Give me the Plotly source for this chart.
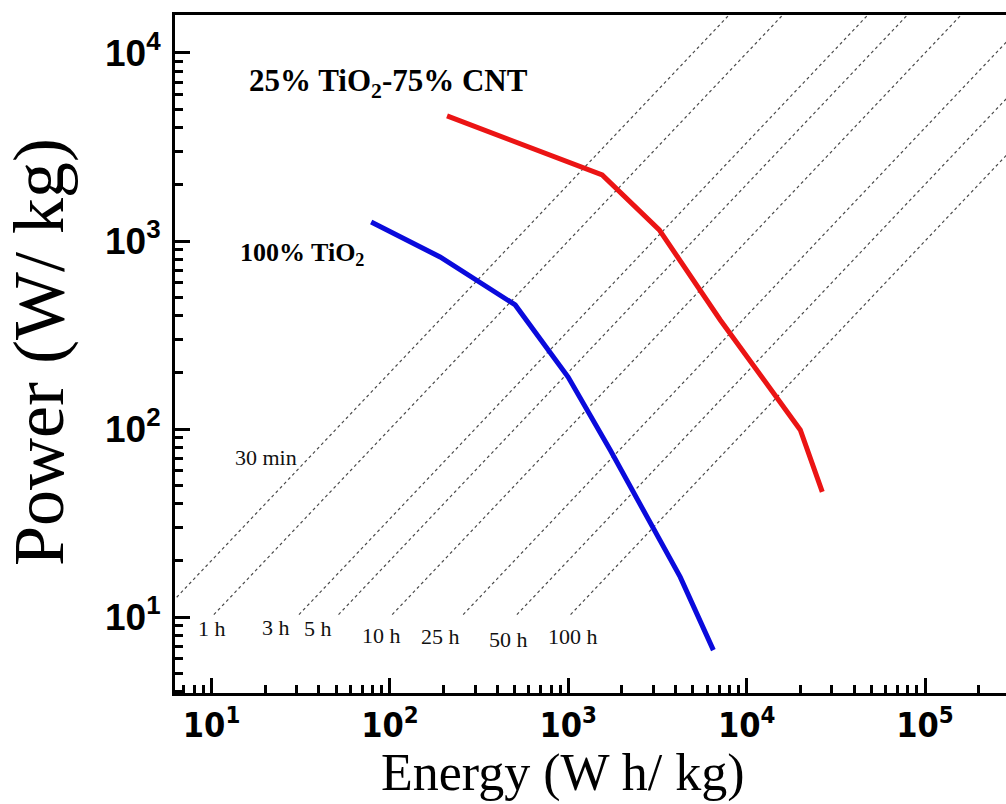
import numpy as np
import plotly.graph_objects as go

# ---- data ----
cnt_energy = [209, 1549, 3236, 7112, 19990, 26540]      # W h/kg
cnt_power = [4624, 2244, 1146, 380, 98.9, 46.3]         # W/kg

tio2_energy = [78.5, 191, 504, 998, 1718, 4245, 6505]
tio2_power = [1262, 822, 457, 189, 77.3, 16.3, 6.67]

times_h = [0.5, 1, 3, 5, 10, 25, 50, 100]               # discharge-time guide lines
time_labels = ["30 min", "1 h", "3 h", "5 h", "10 h", "25 h", "50 h", "100 h"]
guide_power = [10.3, 30000]                              # power span of guide lines

x_tickvals = [10, 100, 1000, 10000, 100000]
x_ticktext = ["10<sup>1</sup>", "10<sup>2</sup>", "10<sup>3</sup>", "10<sup>4</sup>", "10<sup>5</sup>"]
y_tickvals = [10, 100, 1000, 10000]
y_ticktext = ["10<sup>1</sup>", "10<sup>2</sup>", "10<sup>3</sup>", "10<sup>4</sup>"]

fig = go.Figure()

# constant-time guide lines P = E / t
for t in times_h:
    p = np.array(guide_power)
    fig.add_trace(go.Scatter(x=p * t, y=p, mode="lines",
                             line=dict(color="#4a4a4a", width=1.2, dash="dot"),
                             showlegend=False, hoverinfo="skip"))

fig.add_trace(go.Scatter(x=tio2_energy, y=tio2_power, mode="lines",
                         line=dict(color="rgb(10,10,220)", width=5),
                         showlegend=False))
fig.add_trace(go.Scatter(x=cnt_energy, y=cnt_power, mode="lines",
                         line=dict(color="rgb(235,20,20)", width=5),
                         showlegend=False))

serif = "Liberation Serif, Times New Roman, serif"

# guide-line labels (positions in log10 data units)
label_pos = {
    "30 min": (1.306, 1.846),
    "1 h": (1.003, 0.941),
    "3 h": (1.362, 0.947),
    "5 h": (1.597, 0.941),
    "10 h": (1.951, 0.904),
    "25 h": (2.282, 0.894),
    "50 h": (2.663, 0.883),
    "100 h": (3.028, 0.899),
}
annotations = []
for lab in time_labels:
    x, y = label_pos[lab]
    annotations.append(dict(x=x, y=y, xref="x", yref="y", text=lab, showarrow=False,
                            font=dict(family=serif, size=22, color="#111111"),
                            xanchor="center", yanchor="middle"))

annotations.append(dict(x=1.199, y=3.84, xref="x", yref="y",
                        text="25% TiO<sub>2</sub>-75% CNT", showarrow=False,
                        font=dict(family=serif, size=31, color="black", weight="bold"),
                        xanchor="left", yanchor="middle"))
annotations.append(dict(x=1.149, y=2.93, xref="x", yref="y",
                        text="100% TiO<sub>2</sub>", showarrow=False,
                        font=dict(family=serif, size=26, color="black", weight="bold"),
                        xanchor="left", yanchor="middle"))

# axis titles
annotations.append(dict(x=(39 - 175) / 831, y=(693 - 352) / 678, xref="paper", yref="paper",
                        text="Power (W/ kg)", showarrow=False, textangle=-90,
                        font=dict(family=serif, size=72, color="black"),
                        xanchor="center", yanchor="middle"))
annotations.append(dict(x=(562 - 175) / 831, y=(693 - 773) / 678, xref="paper", yref="paper",
                        text="Energy (W h/ kg)", showarrow=False,
                        font=dict(family=serif, size=52, color="black"),
                        xanchor="center", yanchor="middle"))

fig.update_layout(
    width=1006, height=804,
    margin=dict(l=175, r=0, t=15, b=111),
    paper_bgcolor="white", plot_bgcolor="white",
    annotations=annotations,
    xaxis=dict(type="log", range=[0.795, 5.454],
               tickmode="array", tickvals=x_tickvals, ticktext=x_ticktext,
               showgrid=False, zeroline=False,
               showline=True, linecolor="black", linewidth=3, mirror=True,
               ticks="inside", ticklen=15, tickwidth=3, tickcolor="black",
               ticklabelstandoff=0,
               tickfont=dict(family="Liberation Sans Narrow, DejaVu Sans Condensed, Liberation Sans, sans-serif",
                             size=34, color="black", weight="bold"),
               minor=dict(ticks="inside", ticklen=8, tickwidth=3, tickcolor="black",
                          tickvals=[v * k for v in [1, 10, 100, 1000, 10000, 100000] for k in range(2, 10)],
                          showgrid=False)),
    yaxis=dict(type="log", range=[0.596, 4.202],
               tickmode="array", tickvals=y_tickvals, ticktext=y_ticktext,
               showgrid=False, zeroline=False,
               showline=True, linecolor="black", linewidth=3, mirror=False,
               ticks="inside", ticklen=15, tickwidth=3, tickcolor="black",
               ticklabelstandoff=4,
               tickfont=dict(family="Liberation Sans, Arial, sans-serif",
                             size=37, color="black", weight="bold"),
               minor=dict(ticks="inside", ticklen=8, tickwidth=3, tickcolor="black",
                          tickvals=[v * k for v in [1, 10, 100, 1000, 10000] for k in range(2, 10)],
                          showgrid=False)),
)

fig.write_html("out.html")
